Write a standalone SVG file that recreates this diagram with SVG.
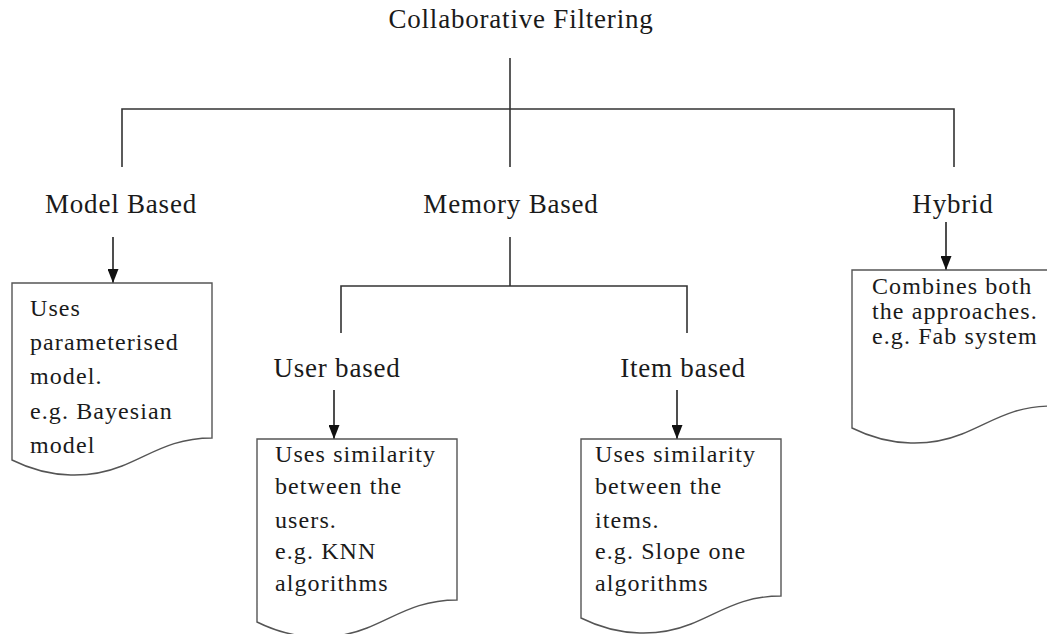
<svg xmlns="http://www.w3.org/2000/svg" width="1047" height="634" viewBox="0 0 1047 634">
  <style>
    .label { font-family: "Liberation Serif", "Times New Roman", serif; font-size: 27px; fill: #1a1a1a; letter-spacing: 0.8px; text-anchor: middle; }
    .body { font-family: "Liberation Serif", "Times New Roman", serif; font-size: 24px; fill: #1a1a1a; letter-spacing: 1.1px; }
    .tree { fill: none; stroke: #333; stroke-width: 1.6; }
    .arrow { fill: none; stroke: #222; stroke-width: 1.6; marker-end: url(#head); }
    .doc { fill: #fff; stroke: #555; stroke-width: 1.4; }
  </style>
  <defs>
    <marker id="head" markerUnits="userSpaceOnUse" markerWidth="14" markerHeight="11" refX="14" refY="5.5" orient="auto">
      <path d="M0,0 L14,5.5 L0,11 Z" fill="#111"/>
    </marker>
  </defs>
  <rect width="1047" height="634" fill="#fff"/>

  <!-- connectors -->
  <g id="connectors">
    <path class="tree" d="M510 58 V109 M122 167 V109 H954 V167 M510 109 V167"/>
    <path class="tree" d="M510 237 V286 M341 333 V286 H687 V333"/>
    <line class="arrow" x1="113" y1="237" x2="113" y2="283"/>
    <line class="arrow" x1="946" y1="222" x2="946" y2="270"/>
    <line class="arrow" x1="334" y1="390" x2="334" y2="439"/>
    <line class="arrow" x1="677" y1="390" x2="677" y2="439"/>
  </g>

  <!-- headings -->
  <g id="root">
    <text class="label" x="521" y="28">Collaborative Filtering</text>
  </g>
  <g id="model-based">
    <text class="label" x="121" y="213">Model Based</text>
  </g>
  <g id="memory-based">
    <text class="label" x="511" y="213">Memory Based</text>
  </g>
  <g id="hybrid">
    <text class="label" x="953" y="213">Hybrid</text>
  </g>
  <g id="user-based">
    <text class="label" x="337" y="377">User based</text>
  </g>
  <g id="item-based">
    <text class="label" x="683" y="377">Item based</text>
  </g>

  <!-- document boxes -->
  <g id="model-note">
    <path class="doc" d="M212 438 V283 H12 V460 C52 480 92 478 122 466 S172 438 212 438 Z"/>
    <text class="body">
      <tspan x="30" y="316">Uses</tspan>
      <tspan x="30" y="350">parameterised</tspan>
      <tspan x="30" y="384">model.</tspan>
      <tspan x="30" y="419">e.g. Bayesian</tspan>
      <tspan x="30" y="453">model</tspan>
    </text>
  </g>
  <g id="user-note">
    <path class="doc" d="M457 600 V439 H257 V622 C297 642 337 640 367 628 S417 600 457 600 Z"/>
    <text class="body">
      <tspan x="275" y="462">Uses similarity</tspan>
      <tspan x="275" y="494">between the</tspan>
      <tspan x="275" y="528">users.</tspan>
      <tspan x="275" y="559">e.g. KNN</tspan>
      <tspan x="275" y="591">algorithms</tspan>
    </text>
  </g>
  <g id="item-note">
    <path class="doc" d="M781 596 V439 H581 V618 C621 638 661 636 691 624 S741 596 781 596 Z"/>
    <text class="body">
      <tspan x="595" y="462">Uses similarity</tspan>
      <tspan x="595" y="494">between the</tspan>
      <tspan x="595" y="528">items.</tspan>
      <tspan x="595" y="559">e.g. Slope one</tspan>
      <tspan x="595" y="591">algorithms</tspan>
    </text>
  </g>
  <g id="hybrid-note">
    <path class="doc" d="M1052 406 V270 H852 V428 C892 448 932 446 962 434 S1012 406 1052 406 Z"/>
    <text class="body">
      <tspan x="872" y="294">Combines both</tspan>
      <tspan x="872" y="319">the approaches.</tspan>
      <tspan x="872" y="344">e.g. Fab system</tspan>
    </text>
  </g>
</svg>
